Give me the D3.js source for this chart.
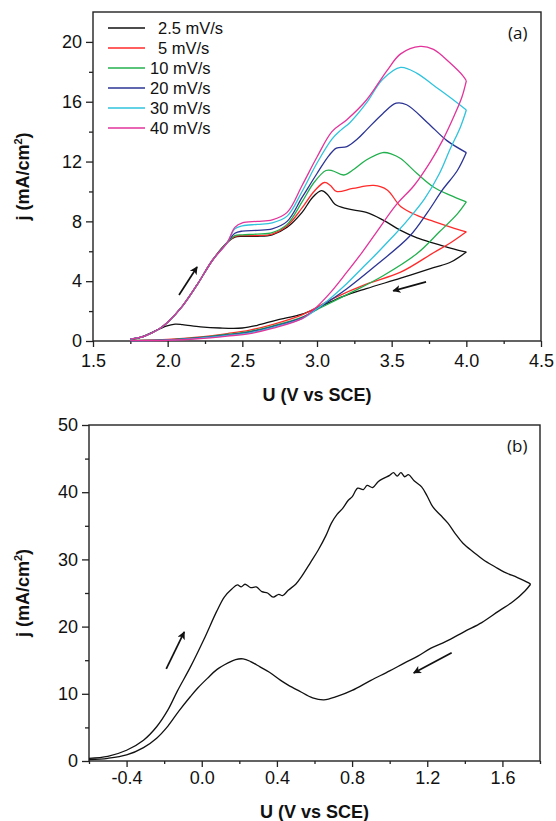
<!DOCTYPE html>
<html>
<head>
<meta charset="utf-8"/>
<script src="https://cdn.jsdelivr.net/npm/d3@7"></script>
<title>Cyclic voltammetry</title>
<style>
body { margin: 0; background: #fff; }
svg { display: block; }
text { font-family: "Liberation Sans", Arial, sans-serif; fill: #111; }
.tick text { font-size: 18px; }
.title { font-size: 18px; font-weight: bold; }
.legend text { font-size: 16.5px; }
.panel-tag { font-family: "Open Sans", sans-serif; font-size: 17px; }
</style>
</head>
<body>
<svg width="556" height="821"></svg>
<script>
// ---- panel (a): scan-rate series ----
var rates = ["2.5 mV/s", "5 mV/s", "10 mV/s", "20 mV/s", "30 mV/s", "40 mV/s"];
var colors = ["#111111", "#ff2a2a", "#22b04e", "#2b3494", "#2fc3dd", "#e2339b"];

// shared start of the anodic sweep
var anodicStart = [[1.75,0.12],[1.85,0.35],[1.95,0.85],[2.0,1.25],[2.1,2.35],[2.2,3.8],[2.3,5.4],[2.4,6.6]];

var anodic25 = [[2.45,6.95],[2.5,7.0],[2.6,7.0],[2.7,7.1],[2.8,7.6],[2.9,8.6],[2.97,9.6],[3.03,10.05],[3.07,9.8],[3.12,9.15],[3.2,8.85],[3.33,8.6],[3.44,8.1],[3.56,7.4],[3.67,6.9],[3.78,6.55],[3.9,6.2],[4.0,5.95]];
var anodic5 = [[2.45,7.0],[2.5,7.05],[2.6,7.05],[2.7,7.15],[2.8,7.7],[2.9,8.9],[2.98,10.0],[3.05,10.6],[3.09,10.4],[3.13,10.0],[3.24,10.2],[3.38,10.4],[3.47,10.1],[3.56,9.0],[3.67,8.4],[3.78,8.0],[3.9,7.6],[4.0,7.3]];
var anodic10 = [[2.45,7.05],[2.5,7.1],[2.6,7.15],[2.7,7.25],[2.8,7.8],[2.9,9.3],[2.98,10.6],[3.06,11.4],[3.1,11.4],[3.18,11.1],[3.25,11.5],[3.33,12.1],[3.44,12.6],[3.5,12.5],[3.56,12.2],[3.67,11.2],[3.78,10.3],[3.89,9.75],[4.0,9.3]];
var anodic20 = [[2.45,7.2],[2.5,7.35],[2.6,7.4],[2.7,7.5],[2.8,8.0],[2.9,9.6],[3.0,11.2],[3.08,12.4],[3.13,12.9],[3.2,13.0],[3.27,13.5],[3.33,14.1],[3.44,15.2],[3.53,15.9],[3.6,15.8],[3.74,14.6],[3.87,13.4],[4.0,12.6]];
var anodic30 = [[2.45,7.5],[2.5,7.7],[2.6,7.8],[2.7,7.9],[2.8,8.35],[2.9,10.0],[3.0,11.9],[3.1,13.5],[3.16,14.1],[3.22,14.6],[3.33,15.9],[3.44,17.5],[3.56,18.3],[3.67,17.9],[3.78,17.1],[3.89,16.3],[4.0,15.45]];
var anodic40 = [[2.45,7.6],[2.5,7.9],[2.6,8.0],[2.7,8.1],[2.8,8.6],[2.9,10.4],[3.0,12.3],[3.1,14.0],[3.2,14.8],[3.33,16.1],[3.47,18.1],[3.56,19.2],[3.69,19.7],[3.78,19.5],[3.89,18.6],[3.98,17.7],[4.0,17.4]];

var cathodic25 = [[4.0,5.95],[3.9,5.3],[3.78,4.9],[3.56,4.2],[3.33,3.5],[3.18,3.0],[3.02,2.3],[2.9,1.8],[2.73,1.4],[2.6,1.05],[2.5,0.87],[2.35,0.87],[2.22,0.95],[2.1,1.1],[2.05,1.13],[1.99,1.0],[1.9,0.6],[1.82,0.25],[1.75,0.1]];
var cathodic5 = [[4.0,7.3],[3.9,6.6],[3.78,5.9],[3.56,4.6],[3.33,3.8],[3.11,2.85],[2.9,1.75],[2.7,1.1],[2.55,0.73],[2.4,0.5],[2.2,0.25],[2.0,0.1],[1.85,0.05],[1.75,0.05]];
var cathodic10 = [[4.0,9.3],[3.94,8.5],[3.82,7.3],[3.67,5.85],[3.44,4.35],[3.22,3.2],[3.0,2.1],[2.9,1.6],[2.7,1.0],[2.55,0.65],[2.4,0.45],[2.2,0.22],[2.0,0.08],[1.75,0.04]];
var cathodic20 = [[4.0,12.6],[3.94,11.4],[3.84,10.1],[3.74,8.6],[3.62,7.0],[3.4,5.1],[3.2,3.5],[3.0,2.15],[2.9,1.55],[2.7,0.95],[2.55,0.6],[2.4,0.4],[2.2,0.2],[2.0,0.07],[1.75,0.03]];
var cathodic30 = [[4.0,15.45],[3.96,14.3],[3.89,12.8],[3.82,11.2],[3.72,9.5],[3.6,8.0],[3.5,6.9],[3.4,5.85],[3.3,4.85],[3.2,3.85],[3.1,2.95],[3.0,2.15],[2.9,1.5],[2.7,0.9],[2.55,0.55],[2.4,0.37],[2.2,0.18],[2.0,0.06],[1.75,0.03]];
var cathodic40 = [[4.0,17.4],[3.97,16.3],[3.92,15.1],[3.84,13.4],[3.76,12.0],[3.65,10.4],[3.53,9.1],[3.4,7.3],[3.3,5.9],[3.2,4.6],[3.1,3.35],[3.0,2.3],[2.9,1.5],[2.7,0.85],[2.55,0.5],[2.4,0.33],[2.2,0.15],[2.0,0.05],[1.75,0.02]];

var anodicA = [anodic25, anodic5, anodic10, anodic20, anodic30, anodic40];
var cathodicA = [cathodic25, cathodic5, cathodic10, cathodic20, cathodic30, cathodic40];

// sweep direction arrows [from, to] in data units
var arrowsA = [[[2.076,3.08],[2.197,4.95]], [[3.73,3.95],[3.51,3.35]]];

// ---- panel (b): single scan ----
var anodicB = [[-0.6,0.4],[-0.5,0.7],[-0.4,1.6],[-0.31,3.1],[-0.24,5.1],[-0.18,7.6],[-0.13,10.4],[-0.06,14.0],[0.01,18.0],[0.08,22.3],[0.12,24.4],[0.16,25.6],[0.19,26.2],[0.21,25.9],[0.23,26.3],[0.26,25.8],[0.29,25.9],[0.32,25.2],[0.35,25.0],[0.38,24.4],[0.41,24.8],[0.43,24.6],[0.46,25.4],[0.5,26.3],[0.53,27.4],[0.58,29.6],[0.62,31.4],[0.66,33.5],[0.69,35.4],[0.72,36.7],[0.75,37.6],[0.78,38.8],[0.8,39.3],[0.83,40.6],[0.86,40.4],[0.88,41.0],[0.91,40.7],[0.94,41.6],[0.97,42.1],[1.0,42.5],[1.02,42.9],[1.04,42.4],[1.06,42.9],[1.08,42.3],[1.1,42.6],[1.13,41.7],[1.17,40.8],[1.2,39.4],[1.23,37.8],[1.27,36.6],[1.31,35.4],[1.35,33.8],[1.39,32.4],[1.45,31.0],[1.5,29.9],[1.56,28.9],[1.61,28.1],[1.68,27.3],[1.74,26.5],[1.75,26.3]];
var cathodicB = [[1.75,26.3],[1.72,25.3],[1.66,23.8],[1.58,22.3],[1.49,20.6],[1.4,19.3],[1.3,17.8],[1.22,16.8],[1.15,15.6],[1.08,14.6],[1.0,13.4],[0.9,12.0],[0.8,10.5],[0.72,9.6],[0.65,9.1],[0.59,9.4],[0.52,10.4],[0.46,11.3],[0.42,12.0],[0.36,13.2],[0.31,14.0],[0.26,14.8],[0.22,15.2],[0.18,15.1],[0.14,14.6],[0.08,13.6],[0.03,12.3],[-0.02,10.9],[-0.06,9.6],[-0.12,7.5],[-0.18,5.2],[-0.24,3.4],[-0.31,2.0],[-0.4,0.9],[-0.5,0.4],[-0.6,0.2]];
var arrowsB = [[[-0.189,13.7],[-0.093,19.2]], [[1.33,16.1],[1.128,13.1]]];

// tick values
var xMajorA = [1.5,2.0,2.5,3.0,3.5,4.0,4.5], xMinorA = [1.75,2.25,2.75,3.25,3.75,4.25];
var yMajorA = [0,4,8,12,16,20], yMinorA = [2,6,10,14,18];
var xMajorB = [-0.4,0.0,0.4,0.8,1.2,1.6], xMinorB = [-0.6,-0.2,0.2,0.6,1.0,1.4,1.8];
var yMajorB = [0,10,20,30,40,50], yMinorB = [5,15,25,35,45];

var svg = d3.select("svg");

svg.append("defs").append("marker")
    .attr("id", "head")
    .attr("viewBox", "0 0 10 10")
    .attr("refX", 9).attr("refY", 5)
    .attr("markerWidth", 13).attr("markerHeight", 8)
    .attr("markerUnits", "userSpaceOnUse")
    .attr("orient", "auto")
  .append("path")
    .attr("d", "M0,0 L10,5 L0,10 L2.5,5 Z")
    .attr("fill", "#111");

function panel(x, y, opt) {
  var g = svg.append("g");
  var r = x.range(), t = y.range();

  function axes(values, size, fmt, padX, padY) {
    g.append("g").attr("transform", "translate(0," + t[0] + ")")
      .call(d3.axisBottom(x).tickValues(values.x).tickSize(size).tickPadding(padX).tickFormat(fmt));
    g.append("g").attr("transform", "translate(" + r[0] + ",0)")
      .call(d3.axisLeft(y).tickValues(values.y).tickSize(size + 1).tickPadding(padY).tickFormat(fmt ? function(d) { return d; } : ""));
  }
  axes({x: opt.xMajor, y: opt.yMajor}, 6, function(d) { return d.toFixed(1); }, opt.xPad, 4);
  axes({x: opt.xMinor, y: opt.yMinor}, 3, "", 0, 0);

  g.selectAll(".domain").remove();
  g.selectAll(".tick line").attr("stroke", "#222").attr("stroke-width", 1.3);
  g.selectAll(".tick text").attr("fill", "#111");

  g.append("rect")
    .attr("x", r[0]).attr("y", t[1])
    .attr("width", r[1] - r[0]).attr("height", t[0] - t[1])
    .attr("fill", "none").attr("stroke", "#222").attr("stroke-width", 1.4);

  g.append("text").attr("class", "title")
    .attr("x", (r[0] + r[1]) / 2).attr("y", opt.xTitleY)
    .attr("text-anchor", "middle").text("U (V vs SCE)");

  var yt = g.append("text").attr("class", "title")
    .attr("transform", "translate(29," + (t[0] + t[1]) / 2 + ") rotate(-90)")
    .attr("text-anchor", "middle");
  yt.append("tspan").text("j (mA/cm");
  yt.append("tspan").attr("dy", -7).attr("font-size", 11).text("2");
  yt.append("tspan").attr("dy", 7).text(")");

  g.append("text").attr("class", "panel-tag")
    .attr("x", r[1] - 33).attr("y", t[1] + 27).text(opt.tag);

  return g;
}

function arrows(g, x, y, list) {
  g.selectAll(null).data(list).enter().append("line")
    .attr("x1", function(d) { return x(d[0][0]); })
    .attr("y1", function(d) { return y(d[0][1]); })
    .attr("x2", function(d) { return x(d[1][0]); })
    .attr("y2", function(d) { return y(d[1][1]); })
    .attr("stroke", "#111").attr("stroke-width", 1.7)
    .attr("marker-end", "url(#head)");
}

// ----- panel (a) -----
var xA = d3.scaleLinear().domain([1.5, 4.5]).range([93, 541]);
var yA = d3.scaleLinear().domain([0, 22]).range([341, 12]);
var gA = panel(xA, yA, {xMajor: xMajorA, xMinor: xMinorA, yMajor: yMajorA, yMinor: yMinorA, xPad: 7, xTitleY: 401, tag: "(a)"});

var lineA = d3.line().x(function(d) { return xA(d[0]); }).y(function(d) { return yA(d[1]); })
    .curve(d3.curveCatmullRom.alpha(0.5));

var series = rates.map(function(r, i) {
  return {name: r, color: colors[i], fwd: anodicStart.concat(anodicA[i]), back: cathodicA[i]};
});

var sg = gA.selectAll(".series").data(series).enter().append("g").attr("class", "series");
sg.append("path").attr("d", function(d) { return lineA(d.back); });
sg.append("path").attr("d", function(d) { return lineA(d.fwd); });
sg.selectAll("path").attr("fill", "none")
  .attr("stroke", function() { return d3.select(this.parentNode).datum().color; })
  .attr("stroke-width", 1.3);

arrows(gA, xA, yA, arrowsA);

var lg = gA.append("g").attr("class", "legend");
var item = lg.selectAll("g").data(series).enter().append("g")
  .attr("transform", function(d, i) { return "translate(0," + (28 + i * 20) + ")"; });
item.append("line").attr("x1", 108).attr("x2", 145)
  .attr("stroke", function(d) { return d.color; }).attr("stroke-width", 1.6);
item.append("text")
  .attr("x", function(d) { return /^\d\d/.test(d.name) ? 150 : 158; })
  .attr("dy", "0.35em").text(function(d) { return d.name; });

// ----- panel (b) -----
var xB = d3.scaleLinear().domain([-0.6, 1.8]).range([89, 540]);
var yB = d3.scaleLinear().domain([0, 50]).range([761, 425]);
var gB = panel(xB, yB, {xMajor: xMajorB, xMinor: xMinorB, yMajor: yMajorB, yMinor: yMinorB, xPad: 4, xTitleY: 818, tag: "(b)"});

var lineB = d3.line().x(function(d) { return xB(d[0]); }).y(function(d) { return yB(d[1]); })
    .curve(d3.curveCatmullRom.alpha(0.5));
gB.selectAll(".scan").data([anodicB, cathodicB]).enter().append("path")
  .attr("d", lineB).attr("fill", "none").attr("stroke", "#111").attr("stroke-width", 1.3);

arrows(gB, xB, yB, arrowsB);
</script>
</body>
</html>
